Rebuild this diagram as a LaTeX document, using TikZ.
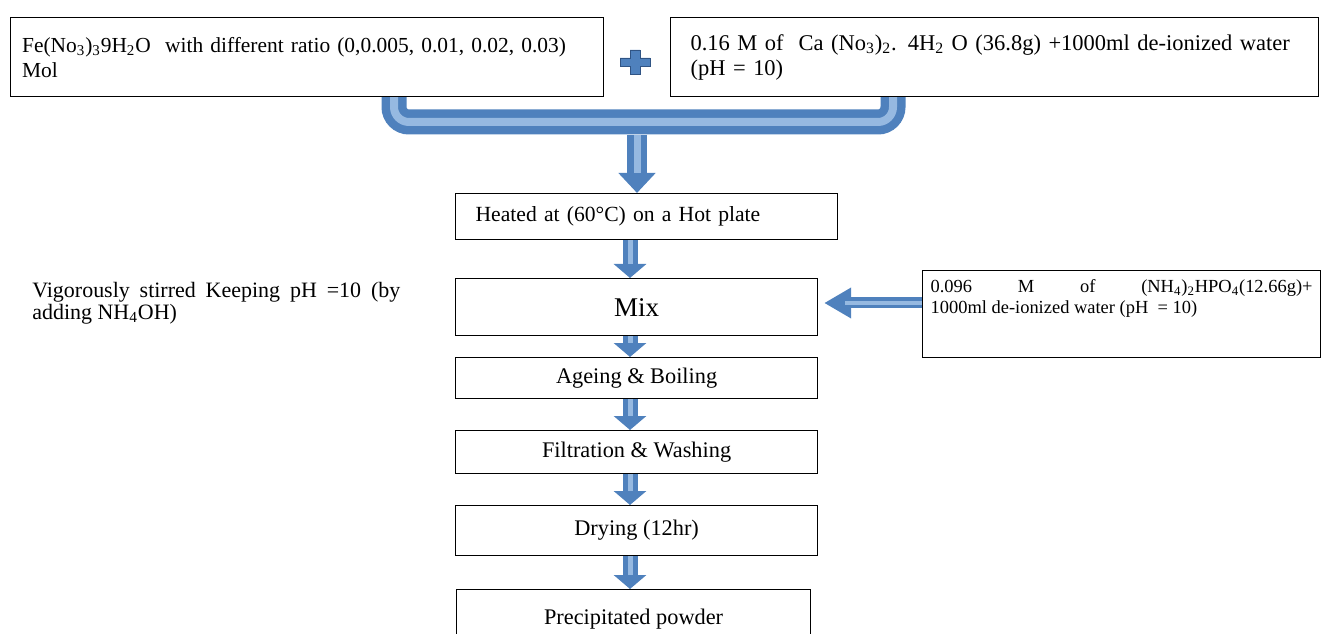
\documentclass[tikz,border=0pt]{standalone}
\usepackage{fontspec}
\setmainfont{Liberation Serif}
\usetikzlibrary{arrows.meta}
\definecolor{pipeblue}{RGB}{79,129,189}
\definecolor{pipedark}{RGB}{48,84,132}
\definecolor{pipelight}{RGB}{150,185,225}
\begin{document}
\begin{tikzpicture}[x=0.02cm,y=-0.02cm,
	box/.style={rectangle,draw,line width=0.7pt,anchor=north west,inner ysep=0pt},
	fat/.style={draw=pipeblue,line width=0.4cm,-{Triangle[width=0.72cm,length=0.4cm]},
		postaction={draw=pipelight,line width=0.14cm,shorten >=0.4cm,-}},
	thin/.style={draw=pipeblue,line width=0.3cm,-{Triangle[width=0.64cm,length=0.28cm]},
		postaction={draw=pipelight,line width=0.1cm,shorten >=0.28cm,-}},
	side/.style={draw=pipeblue,line width=0.22cm,-{Triangle[width=0.58cm,length=0.54cm]},
		postaction={draw=pipelight,line width=0.07cm,shorten >=0.54cm,-}}]
\useasboundingbox (0,0) rectangle (1325,634);
\node [box,minimum width=11.86cm,minimum height=1.58cm,text width=11.4cm,inner xsep=0.23cm,align=left,
	font=\fontsize{12.2}{14.2}\selectfont] (fe) at (10,17)
	{Fe(No\textsubscript{3})\textsubscript{3}9H\textsubscript{2}O\ \ with different ratio (0,0.005, 0.01, 0.02, 0.03)\\Mol};
\node [box,minimum width=12.96cm,minimum height=1.58cm,text width=12.16cm,inner xsep=0.4cm,align=left,
	font=\fontsize{12.8}{14.2}\selectfont] (ca) at (670,17)
	{0.16 M of\ \ Ca (No\textsubscript{3})\textsubscript{2}. 4H\textsubscript{2} O (36.8g) +1000ml de-ionized water\\(pH = 10)};
\filldraw [fill=pipeblue,draw=pipedark,line width=0.5pt] (630,50) -- (640,50) -- (640,58) -- (650,58) -- (650,66)
	-- (640,66) -- (640,74) -- (630,74) -- (630,66) -- (620,66) -- (620,58) -- (630,58) -- cycle;
\node [box,minimum width=7.64cm,minimum height=0.92cm,text width=6.84cm,inner xsep=0.4cm,align=left,
	font=\fontsize{12.3}{14}\selectfont] (heat) at (455,193) {Heated at (60°C) on a Hot plate};
\node [box,minimum width=7.24cm,minimum height=1.14cm,font=\fontsize{15.4}{17}\selectfont] (mix) at (455,278) {Mix};
\node [box,minimum width=7.96cm,minimum height=1.74cm,text width=7.64cm,inner xsep=0.16cm,align=justify,
	font=\fontsize{10.5}{11.5}\selectfont] (nh4) at (922,270)
	{0.096 M of (NH\textsubscript{4})\textsubscript{2}HPO\textsubscript{4}(12.66g)+\linebreak 1000ml de-ionized water (pH\ \ = 10)\\[0.3cm]};
\node [anchor=north west,text width=7.36cm,inner sep=0pt,align=justify,
	font=\fontsize{12.5}{11}\selectfont] (stir) at (32,282)
	{Vigorously stirred Keeping pH =10 (by\linebreak adding NH\textsubscript{4}OH)};
\node [box,minimum width=7.24cm,minimum height=0.82cm,font=\fontsize{12.7}{14}\selectfont] (age) at (455,357) {Ageing \& Boiling};
\node [box,minimum width=7.24cm,minimum height=0.86cm,font=\fontsize{12.7}{14}\selectfont] (filt) at (455,430) {Filtration \& Washing};
\node [box,minimum width=7.24cm,minimum height=1.0cm,font=\fontsize{12.7}{14}\selectfont] (dry) at (455,505) {Drying (12hr)};
\node [box,minimum width=7.08cm,minimum height=1.2cm,font=\fontsize{12.7}{14}\selectfont] (powder) at (456,589) {Precipitated powder};
\coordinate (j1) at (394,122);
\coordinate (j2) at (893,122);
\coordinate (j3) at (637,135);
\coordinate (c) at (630,0);
\coordinate (r) at (0,303);
\draw [draw=pipeblue,line width=0.5cm,rounded corners=0.3cm,postaction={draw=pipelight,line width=0.16cm}]
	(fe.south -| j1) -- (j1) -- (j2) -- (ca.south -| j2);
\draw [fat] (j3) -- (j3 |- heat.north);
\draw [thin] (heat.south -| c) -- (mix.north -| c);
\draw [thin] (mix.south -| c) -- (age.north -| c);
\draw [thin] (age.south -| c) -- (filt.north -| c);
\draw [thin] (filt.south -| c) -- (dry.north -| c);
\draw [thin] (dry.south -| c) -- (powder.north -| c);
\draw [side,shorten >=0.12cm] (nh4.west |- r) -- (mix.east |- r);
\end{tikzpicture}
\end{document}
